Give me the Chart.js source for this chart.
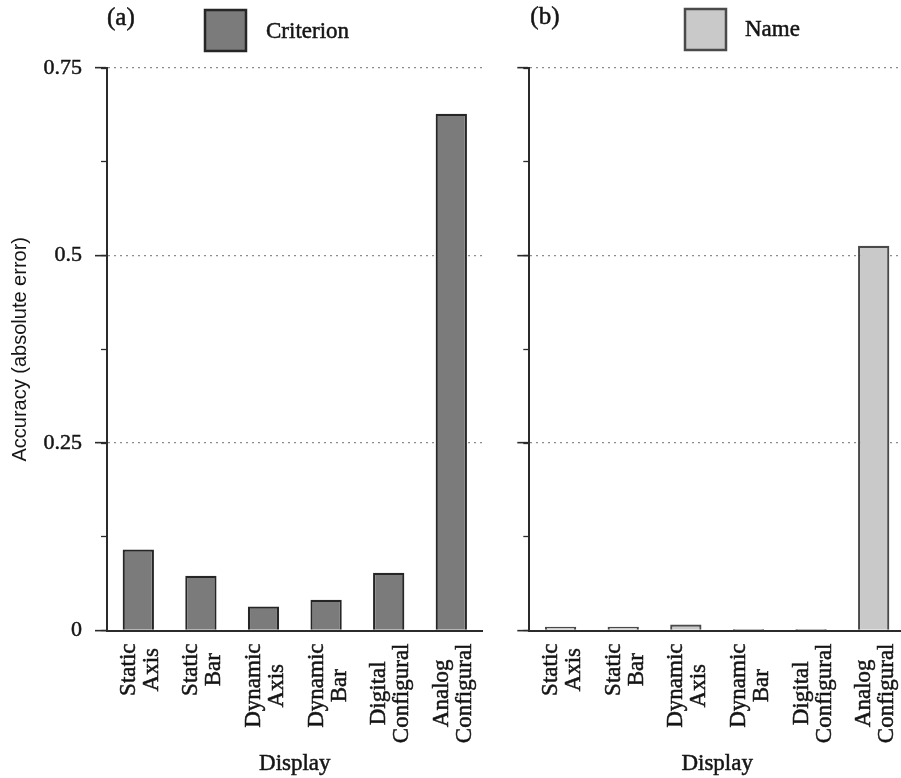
<!DOCTYPE html>
<html>
<head>
<meta charset="utf-8">
<script src="https://cdn.jsdelivr.net/npm/chart.js@4"></script>
<style>
  html, body { margin: 0; padding: 0; background: #fff; overflow: hidden; width: 901px; height: 778px; }
  .panel { position: absolute; top: 0; height: 778px; }
  #panelA { left: 0; width: 490px; }
  #panelB { left: 490px; width: 420px; }
  canvas { display: block; }
</style>
</head>
<body>
<div class="panel" id="panelA"><canvas id="chartA" width="490" height="778"></canvas></div>
<div class="panel" id="panelB"><canvas id="chartB" width="420" height="778"></canvas></div>
<script>
// Display types on the x axis (two-line labels)
const categories = [
  ['Static', 'Axis'],
  ['Static', 'Bar'],
  ['Dynamic', 'Axis'],
  ['Dynamic', 'Bar'],
  ['Digital', 'Configural'],
  ['Analog', 'Configural']
];

// Mean absolute error per display
const criterionValues = [0.108, 0.073, 0.032, 0.041, 0.077, 0.689];
const nameValues = [0.005, 0.005, 0.008, 0.002, 0.002, 0.513];

// Y axis ticks
const yMin = 0;
const yMax = 0.75;
const yMajorStep = 0.25;
const yMinorStep = 0.125;
const yTickLabels = ['0', '0.25', '0.5', '0.75'];

const panelTags = ['(a)', '(b)'];
const seriesNames = ['Criterion', 'Name'];
const xTitle = 'Display';
const yTitle = 'Accuracy (absolute error)';

const SERIF = '"Liberation Serif", "Times New Roman", serif';
const SANS = '"Liberation Sans", Arial, sans-serif';
const INK = '#151515';
const AXIS = '#2b2b2b';
const TEXT_STROKE = 0.5;

// Fill text with a faint outline so it reads as heavily as printed type
function inkText(ctx, text, x, y) {
  ctx.fillText(text, x, y);
  ctx.lineWidth = TEXT_STROKE;
  ctx.strokeStyle = INK;
  ctx.strokeText(text, x, y);
}

// Draws the panel tag, the one-item legend, the centred two-line category labels
// and the x axis title
const panelDecor = {
  id: 'panelDecor',
  afterDraw(chart, args, opts) {
    const ctx = chart.ctx;
    const area = chart.chartArea;
    const ds = chart.data.datasets[0];
    ctx.save();

    ctx.fillStyle = INK;
    ctx.textAlign = 'left';
    ctx.textBaseline = 'alphabetic';
    ctx.font = '25px ' + SERIF;
    inkText(ctx, opts.tag, area.left + opts.tagDx, opts.tagY);

    ctx.fillStyle = ds.backgroundColor;
    ctx.fillRect(opts.boxX, opts.boxY, opts.boxSize, opts.boxSize);
    ctx.lineWidth = 2.5;
    ctx.strokeStyle = ds.borderColor;
    ctx.strokeRect(opts.boxX, opts.boxY, opts.boxSize, opts.boxSize);

    ctx.fillStyle = INK;
    ctx.font = '23px ' + SERIF;
    inkText(ctx, ds.label, opts.boxX + opts.boxSize + opts.labelGap, opts.labelY);

    const xs = chart.scales.x;
    ctx.font = '23px ' + SERIF;
    const lineH = 23;
    chart.data.labels.forEach((lines, i) => {
      const x = xs.getPixelForTick(i);
      const w = Math.max(...lines.map(t => ctx.measureText(t).width));
      ctx.save();
      ctx.translate(x + 2, area.bottom + 13);
      ctx.rotate(-Math.PI / 2);
      ctx.textAlign = 'center';
      ctx.textBaseline = 'middle';
      lines.forEach((t, j) => {
        inkText(ctx, t, -w / 2, (j - (lines.length - 1) / 2) * lineH);
      });
      ctx.restore();
    });

    ctx.textAlign = 'center';
    ctx.textBaseline = 'alphabetic';
    ctx.font = '23px ' + SERIF;
    inkText(ctx, xTitle, (xs.left + xs.right) / 2, xs.bottom - opts.xTitleLift);

    ctx.restore();
  }
};

function buildChart(canvasId, values, label, fill, stroke, cfg) {
  return new Chart(document.getElementById(canvasId), {
    type: 'bar',
    data: {
      labels: categories,
      datasets: [{
        label: label,
        data: values,
        backgroundColor: fill,
        borderColor: stroke,
        borderWidth: 2.2,
        categoryPercentage: 1,
        barPercentage: 0.5
      }]
    },
    options: {
      responsive: false,
      animation: false,
      events: [],
      layout: { padding: { left: 0, right: cfg.padRight, top: 68, bottom: 0 } },
      plugins: {
        legend: { display: false },
        tooltip: { enabled: false },
        panelDecor: cfg.decor
      },
      scales: {
        x: {
          type: 'category',
          grid: { display: false },
          border: { display: true, color: AXIS, width: 2 },
          ticks: { display: false },
          afterFit(s) { s.height = 147.5; }
        },
        y: {
          position: 'left',
          weight: 1,
          min: yMin,
          max: yMax,
          ticks: {
            display: cfg.showLabels,
            stepSize: yMajorStep,
            padding: 13,
            color: INK,
            textStrokeColor: INK,
            textStrokeWidth: TEXT_STROKE,
            font: { family: SERIF, size: 22 },
            callback: (v, i) => yTickLabels[i]
          },
          grid: {
            color: c => (c.tick && c.tick.value === 0) ? 'rgba(0,0,0,0)' : '#8c8c8c',
            lineWidth: 1.3,
            tickLength: 12,
            tickColor: AXIS,
            tickWidth: 1.6
          },
          border: { display: true, color: AXIS, width: 2, dash: [2, 4] },
          title: {
            display: cfg.showLabels,
            text: yTitle,
            color: INK,
            font: { family: SANS, size: 20 },
            padding: { top: 8, bottom: 0 }
          },
          afterFit(s) { s.width = cfg.axisWidth; }
        },
        yMinor: {
          position: 'left',
          weight: 0,
          min: yMin,
          max: yMax,
          ticks: { display: false, stepSize: yMinorStep },
          grid: { drawOnChartArea: false, tickLength: 6, tickColor: AXIS, tickWidth: 1.3 },
          border: { display: false },
          afterFit(s) { s.width = 0; }
        }
      }
    },
    plugins: [panelDecor]
  });
}

buildChart('chartA', criterionValues, seriesNames[0], '#7b7b7b', '#262626', {
  padRight: 7.4,
  axisWidth: 107,
  showLabels: true,
  decor: { tag: panelTags[0], tagDx: 0, tagY: 25, boxX: 205, boxY: 10, boxSize: 41, labelGap: 20, labelY: 38, xTitleLift: 8 }
});

buildChart('chartB', nameValues, seriesNames[1], '#c9c9c9', '#4a4a4a', {
  padRight: 5,
  axisWidth: 39.3,
  showLabels: false,
  decor: { tag: panelTags[1], tagDx: 1, tagY: 24, boxX: 195, boxY: 9, boxSize: 41, labelGap: 19, labelY: 36, xTitleLift: 8 }
});
</script>
</body>
</html>
